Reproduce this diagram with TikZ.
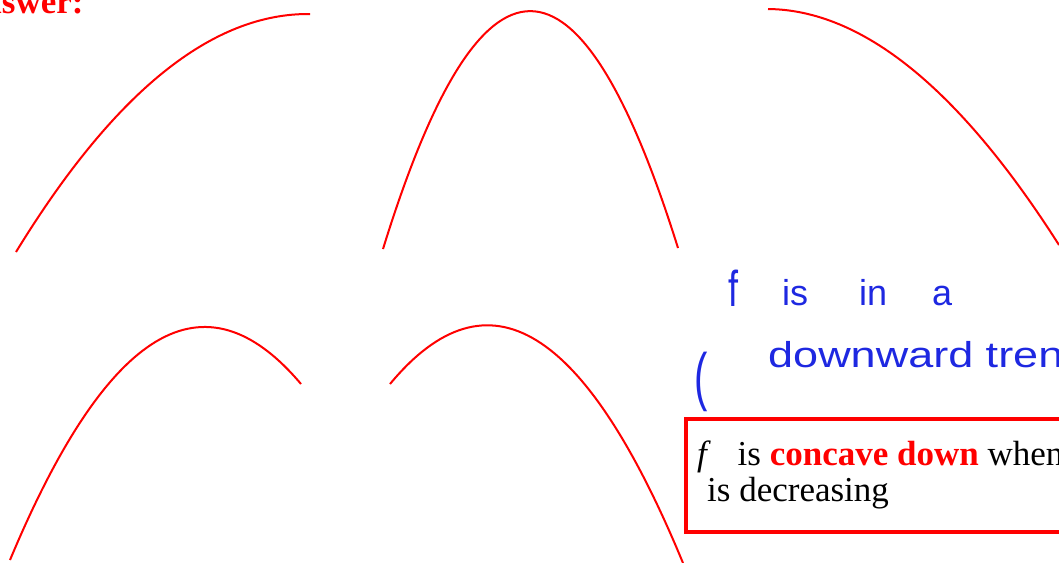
\documentclass[tikz,border=0pt]{standalone}
\usepackage{fontspec}
\usepackage{graphicx}
\setmainfont{Liberation Serif}
\newfontfamily\handfont{Liberation Sans}
\definecolor{penred}{RGB}{255,0,0}
\definecolor{inkblue}{RGB}{30,40,225}
\begin{document}
\begin{tikzpicture}[x=1pt,y=-1pt,
  curve/.style={draw=penred,line width=2pt},
  bigtext/.style={inner sep=0pt,anchor=base west,font=\fontsize{35}{36}\selectfont},
  hand/.style={inner sep=0pt,anchor=base west,text=inkblue,font=\handfont\fontsize{36}{40}\selectfont}]
\useasboundingbox (0,0) rectangle (1059,562);
\clip (0,0) rectangle (1059,562);
% title (clipped)
\node[bigtext,text=penred,font=\bfseries\fontsize{35}{36}\selectfont] (ans) at (-43,13) {Answer:};
% top row curves
\draw[curve] (16,252) .. controls (114,92) and (212,13) .. (310,14);
\draw[curve] (383,249) .. controls (481,-68) and (579,-68) .. (678,248);
\draw[curve] (768,9) .. controls (862,10) and (959,88) .. (1059,245);
% bottom row curves
\draw[curve] (10,560) .. controls (107,328) and (204,269) .. (301,384);
\draw[curve] (390,384) .. controls (488,266) and (585,326) .. (683,563);
% handwriting
\node[hand] (hf) at (728,306) {\scalebox{1}[1.4]{f}};
\node[hand] (his) at (782,305) {is};
\node[hand] (hin) at (859,305) {in};
\node[hand] (ha) at (932,305) {a};
\node[hand] (hdown) at (768,367) {\scalebox{1.25}[1]{downward trend}};
\node[hand,font=\handfont\fontsize{40}{40}\selectfont] (hpar) at (694,398) {\scalebox{1}[1.6]{(}};
% box
\draw[draw=penred,line width=4pt] (686,419) rectangle (1075,532);
\node[bigtext] (l1) at (697,465) {\textit{f}\hspace{18pt} is \textcolor{penred}{\textbf{concave down}} when};
\node[bigtext] (l2) at (707,501) {is decreasing};
\end{tikzpicture}
\end{document}
